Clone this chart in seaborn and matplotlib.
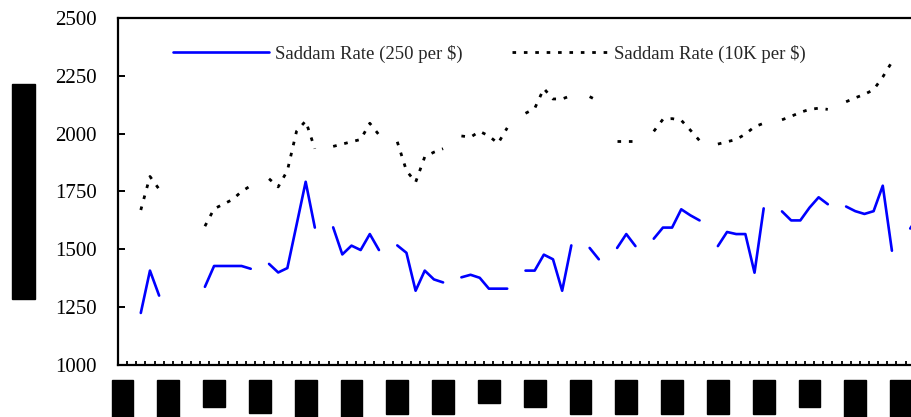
import matplotlib
matplotlib.use("Agg")
import numpy as np
import pandas as pd
import seaborn as sns
import matplotlib.pyplot as plt

nan = np.nan

# daily rates, one missing day per week (nan = no quote)
rate_250 = [nan, nan, 1225, 1408, 1300, nan, nan, nan, nan, 1338,
            1428, 1428, 1428, 1428, 1416, nan, 1437, 1400, 1419, 1605,
            1792, 1594, nan, 1595, 1478, 1516, 1497, 1566, 1497, nan,
            1517, 1485, 1321, 1408, 1370, 1357, nan, 1379, 1390, 1377,
            1330, 1330, 1330, nan, 1408, 1408, 1477, 1457, 1321, 1517,
            nan, 1506, 1457, nan, 1506, 1566, 1514, nan, 1546, 1594,
            1594, 1673, 1647, 1625, nan, 1514, 1575, 1566, 1566, 1399,
            1677, nan, 1664, 1625, 1625, 1680, 1725, 1695, nan, 1685,
            1665, 1653, 1665, 1775, 1494, nan, 1590, 1650]

rate_10k = [nan, nan, 1670, 1815, 1760, nan, nan, nan, nan, 1600,
            1675, 1695, 1715, 1750, 1775, nan, 1805, 1770, 1840, 2010,
            2055, 1935, nan, 1945, 1955, 1965, 1975, 2045, 1995, nan,
            1965, 1840, 1790, 1900, 1920, 1935, nan, 1990, 1985, 2010,
            1990, 1958, 2025, nan, 2088, 2109, 2195, 2150, 2150, 2165,
            nan, 2160, 2140, nan, 1970, 1970, 1970, nan, 2010, 2062,
            2065, 2058, 2015, 1970, nan, 1955, 1965, 1975, 1998, 2030,
            2045, nan, 2060, 2075, 2092, 2105, 2110, 2105, nan, 2138,
            2155, 2170, 2190, 2245, 2310, nan, nan, nan]

# date labels (redacted in the source, shown as black blocks)
x_labels = ["10/21", "10/28", "1/4", "11/1", "11/18", "11/25", "12/2", "12/9", "16",
            "1/3", "1/13", "1/20", "1/27", "12/3", "2/10", "2/7", "12/24", "12/31"]
y_label = "Iraqi Dinars per US Dollar (Saddam)"

name_250 = "Saddam Rate (250 per $)"
name_10k = "Saddam Rate (10K per $)"


def segments(values, name):
    # split the series at missing days so the line breaks there
    d = pd.DataFrame({"day": np.arange(len(values)), "rate": values})
    d["seg"] = d["rate"].isna().cumsum()
    d["series"] = name
    return d.dropna()


sns.set_theme(style="ticks")
plt.rcParams["font.family"] = ["Liberation Serif", "DejaVu Serif"]

fig = plt.figure(figsize=(9.12, 4.17), dpi=100)
ax = fig.add_axes([117.9 / 912, 52 / 417, 824.4 / 912, 347 / 417])

sns.lineplot(data=segments(rate_250, name_250), x="day", y="rate", units="seg",
             estimator=None, ax=ax, color="#0000ff", lw=1.9, label=name_250)
sns.lineplot(data=segments(rate_10k, name_10k), x="day", y="rate", units="seg",
             estimator=None, ax=ax, color="black", lw=2, linestyle=(0, (1.3, 2.8)),
             label=name_10k)

ax.set_xlim(-0.5, 89.5)
ax.set_ylim(1000, 2500)
ax.set_yticks(range(1000, 2501, 250))
ax.tick_params(axis="y", direction="in", length=5, width=1.4, pad=15, labelsize=15,
               colors="black")

ax.set_xticks(range(0, 90, 5))
ax.set_xticklabels(x_labels, rotation=90, fontsize=10, va="top", ha="center")
ax.tick_params(axis="x", which="major", length=0, pad=14)
ax.set_xticks(np.arange(-0.5, 90, 1), minor=True)
ax.tick_params(axis="x", which="minor", direction="in", length=3, width=1.3, bottom=True,
               color="black")
for t in ax.get_xticklabels():
    t.set_color("black")
    t.set_bbox(dict(facecolor="black", edgecolor="black", pad=3.2))

ax.set_xlabel("")
ax.set_ylabel(y_label, fontsize=10, va="center", color="black",
              bbox=dict(facecolor="black", edgecolor="black", pad=3.2))
ax.yaxis.set_label_coords(-94.4 / 824.4, 0.5)

for s in ax.spines.values():
    s.set_color("black")
    s.set_linewidth(1.6)

# one legend handle per series (units produce several lines)
h, l = ax.get_legend_handles_labels()
first = dict(zip(l[::-1], h[::-1]))
ax.get_legend().remove()
for name, x0 in [(name_250, 173), (name_10k, 512)]:
    fig.legend([first[name]], [name], loc="center left",
               bbox_to_anchor=(x0 / 912, 1 - 53.5 / 417), frameon=False, fontsize=13.5,
               handlelength=5.1, handletextpad=0.35, borderpad=0, borderaxespad=0)

fig.savefig("out.png", dpi=100)
